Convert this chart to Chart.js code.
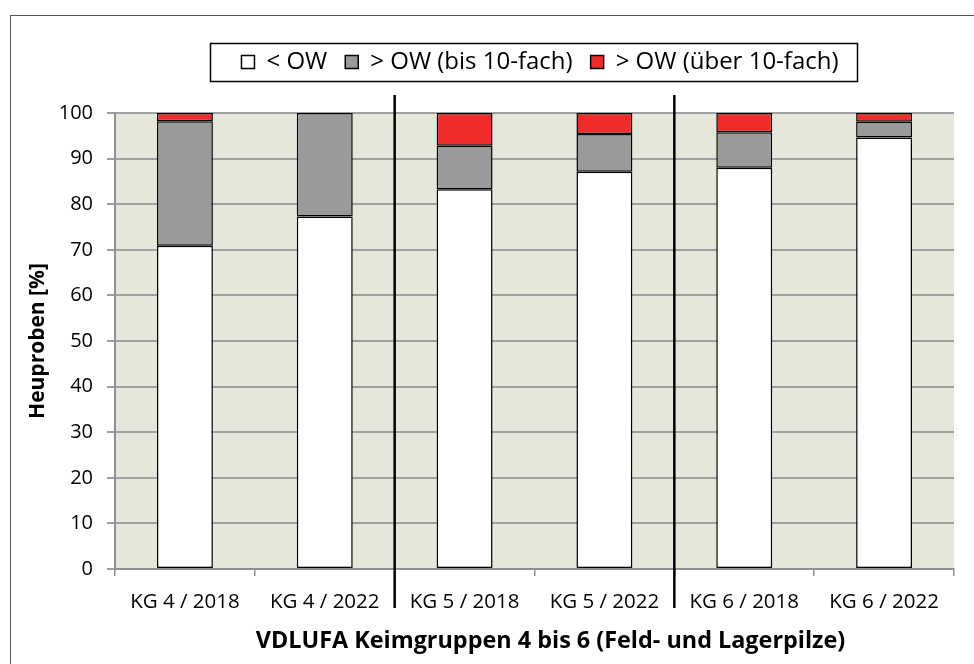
<!DOCTYPE html>
<html><head><meta charset="utf-8">
<script src="https://cdn.jsdelivr.net/npm/chart.js@4/dist/chart.umd.min.js"></script>
<style>html,body{margin:0;padding:0;background:#fff;}#wrap{width:974px;height:664px;position:relative;}</style>
</head><body><div id="wrap"><canvas id="c" width="974" height="664"></canvas></div>
<script>
const categories = ['KG 4 / 2018','KG 4 / 2022','KG 5 / 2018','KG 5 / 2022','KG 6 / 2018','KG 6 / 2022'];
const belowOW = [70.9, 77.3, 83.3, 87.1, 88.0, 94.6];
const aboveOW10 = [27.3, 22.7, 9.5, 8.3, 7.8, 3.5];
const aboveOWover10 = [1.8, 0, 7.2, 4.6, 4.2, 1.9];
const seriesNames = ['< OW', '> OW (bis 10-fach)', '> OW (über 10-fach)'];
const yTicks = [0,10,20,30,40,50,60,70,80,90,100];
const dividers = [1.5, 3.5];

const FONT = 'Open Sans';
const PAD_TOP = 32;
const PLOT_TOP = 113;
const LEGEND_SHIFT = 63;
const XTITLE_SHIFT = 16;

const bgPlugin = {
  id:'bg',
  beforeLayout(chart){
    const lg = chart.legend;
    if(lg && !lg._patched){
      lg._patched = true;
      const origFit = lg.fit;
      lg.fit = function(){ origFit.apply(this, arguments); this.height = PLOT_TOP - PAD_TOP; };
    }
  },
  afterLayout(chart){
    const lg = chart.legend;
    if(lg){ lg.left += LEGEND_SHIFT; lg.right += LEGEND_SHIFT; }
    const x = chart.scales.x;
    if(x && !x._patched){
      x._patched = true;
      const orig = x.drawTitle;
      x.drawTitle = function(){
        const ctx = this.ctx; ctx.save(); ctx.translate(XTITLE_SHIFT,0);
        orig.apply(this, arguments); ctx.restore();
      };
    }
  },
  beforeDraw(chart){
    const {ctx, chartArea:a} = chart;
    ctx.save();
    ctx.fillStyle='#fff'; ctx.fillRect(0,0,chart.width,chart.height);
    ctx.strokeStyle='#555'; ctx.lineWidth=1;
    ctx.strokeRect(10.5,15.5,chart.width+20,chart.height+20);
    ctx.fillStyle='#e7e6db';
    ctx.fillRect(a.left,a.top,a.right-a.left,a.bottom-a.top);
    ctx.restore();
  },
  afterDatasetsDraw(chart){
    const {ctx, scales:{x}} = chart;
    ctx.save();
    ctx.strokeStyle='#000'; ctx.lineWidth=2.5;
    dividers.forEach(d=>{
      const px = (x.getPixelForValue(Math.floor(d)) + x.getPixelForValue(Math.ceil(d)))/2;
      ctx.beginPath(); ctx.moveTo(px,95); ctx.lineTo(px,608); ctx.stroke();
    });
    ctx.restore();
  },
  afterDraw(chart){
    const hb = chart.legend.legendHitBoxes;
    if(!hb||!hb.length) return;
    const l = hb[0].left - 31;
    const last = hb[hb.length-1];
    const r = last.left + last.width + 19;
    const cy = hb[0].top + hb[0].height/2;
    const ctx = chart.ctx;
    ctx.save(); ctx.strokeStyle='#000'; ctx.lineWidth=1.5;
    ctx.strokeRect(Math.round(l)+0.5, Math.round(cy-19)+0.5, Math.round(r-l), 38);
    ctx.restore();
  }
};

new Chart(document.getElementById('c'), {
  type:'bar',
  data:{
    labels: categories,
    datasets:[
      {label:seriesNames[0], data:belowOW, backgroundColor:'#ffffff', borderColor:'#000', borderWidth:1.5, borderSkipped:false},
      {label:seriesNames[1], data:aboveOW10, backgroundColor:'#999b9b', borderColor:'#000', borderWidth:1.5, borderSkipped:false},
      {label:seriesNames[2], data:aboveOWover10, backgroundColor:'#ee2c2c', borderColor:'#000', borderWidth:1.5, borderSkipped:false}
    ]
  },
  options:{
    responsive:false, animation:false,
    layout:{padding:{left:0,right:20,top:PAD_TOP,bottom:0}},
    datasets:{bar:{barPercentage:0.4, categoryPercentage:1}},
    plugins:{
      tooltip:{enabled:false},
      legend:{
        position:'top',
        labels:{font:{family:FONT,size:24}, color:'#000', boxWidth:13, boxHeight:13, padding:18}
      }
    },
    scales:{
      x:{
        stacked:true,
        grid:{offset:true, drawOnChartArea:false, color:'#909090', lineWidth:1.5, tickLength:7},
        border:{color:'#909090', width:2},
        ticks:{font:{family:FONT,size:20.5}, color:'#000', padding:14, maxRotation:0},
        title:{display:true, text:'VDLUFA Keimgruppen 4 bis 6 (Feld- und Lagerpilze)', font:{family:FONT,size:23.4,weight:'bold'}, color:'#000', padding:{top:0,bottom:9}},
        afterFit(s){ s.height = 95; }
      },
      y:{
        stacked:true, min:0, max:100,
        afterBuildTicks(s){ s.ticks = yTicks.map(v=>({value:v})); },
        grid:{color:'#a0a0a0', lineWidth:2, tickLength:8},
        border:{color:'#909090', width:2},
        ticks:{font:{family:FONT,size:20}, color:'#000', padding:14},
        title:{display:true, text:'Heuproben [%]', font:{family:FONT,size:21,weight:'bold'}, color:'#000', padding:{top:25,bottom:0}},
        afterFit(s){ s.width = 115; }
      }
    }
  },
  plugins:[bgPlugin]
});
</script></body></html>
